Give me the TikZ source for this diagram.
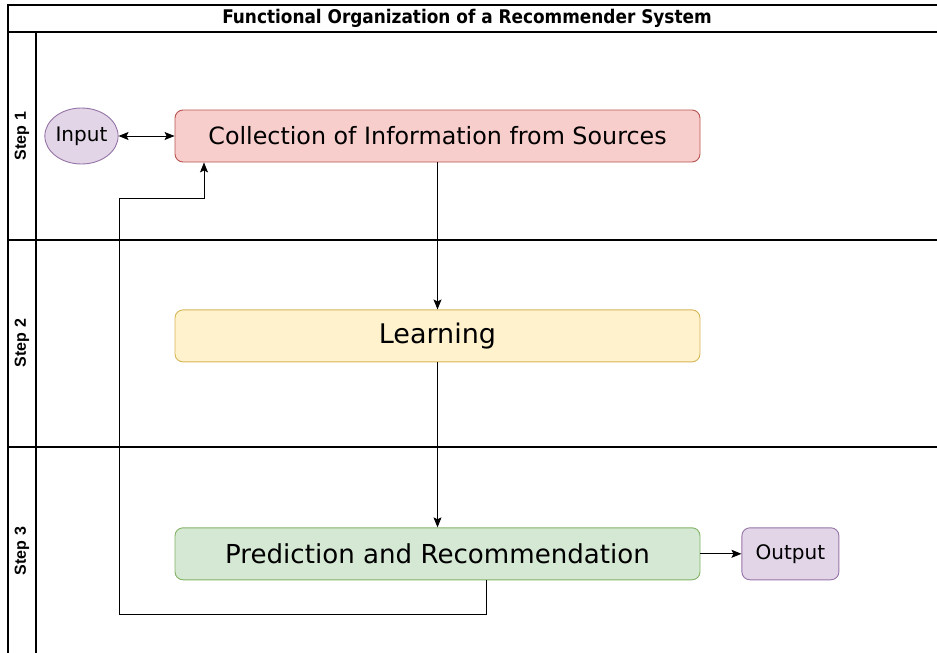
\documentclass[tikz,border=0pt]{standalone}
\usepackage{fontspec}
\setmainfont{DejaVu Sans}
\newfontfamily\titlefont{DejaVu Sans Condensed}
\newfontfamily\stepfont{Liberation Sans}
\usetikzlibrary{positioning,arrows.meta,shapes.geometric}

\definecolor{collfill}{HTML}{F8CECC}
\definecolor{colldraw}{HTML}{B85450}
\definecolor{learnfill}{HTML}{FFF2CC}
\definecolor{learndraw}{HTML}{D6B656}
\definecolor{predfill}{HTML}{D5E8D4}
\definecolor{preddraw}{HTML}{82B366}
\definecolor{iofill}{HTML}{E1D5E7}
\definecolor{iodraw}{HTML}{9673A6}

\begin{document}
\begin{tikzpicture}[x=1pt, y=-1pt, node distance=0pt,
    stepbox/.style={draw, rounded corners=8pt, minimum width=525pt, minimum height=52pt, line width=0.9pt, inner sep=0pt},
    lane/.style={line width=1.5pt},
    arr/.style={-{Stealth[length=10pt,width=8pt,inset=2pt]}, line width=0.9pt},
    steplabel/.style={rotate=90, font=\stepfont\bfseries\fontsize{16}{18}\selectfont}]

    \useasboundingbox (0,0) rectangle (937,653);

    % swimlane frame
    \draw[lane] (960,5) -- (8,5) -- (8,680);
    \draw[lane] (8,32) -- (960,32);
    \draw[lane] (36,32) -- (36,680);
    \draw[lane] (8,240) -- (960,240);
    \draw[lane] (8,447) -- (960,447);

    \node [font=\titlefont\bfseries\fontsize{18.8}{22}\selectfont] (title) at (467,18) {Functional Organization of a Recommender System};
    \node [steplabel] (s1) at (22,136) {Step 1};
    \node [steplabel] (s2) at (22,343) {Step 2};
    \node [steplabel] (s3) at (22,551) {Step 3};

    % the three steps
    \node [stepbox, fill=collfill, draw=colldraw, font=\fontsize{23.8}{28}\selectfont] (coll) at (437.5,136) {Collection of Information from Sources};
    \node [stepbox, fill=learnfill, draw=learndraw, font=\fontsize{27}{32}\selectfont, below=147pt of coll] (learn) {Learning};
    \node [stepbox, fill=predfill, draw=preddraw, font=\fontsize{26.1}{31}\selectfont, below=165pt of learn] (pred) {Prediction and Recommendation};

    \node [draw=iodraw, fill=iofill, ellipse, minimum width=70pt, minimum height=56pt, inner sep=0pt, line width=0.9pt, font=\fontsize{20}{24}\selectfont, left=56pt of coll] (input) {Input};
    \node [draw=iodraw, fill=iofill, rounded corners=8pt, minimum width=97pt, minimum height=52pt, inner sep=0pt, line width=0.9pt, font=\fontsize{20}{24}\selectfont, right=41pt of pred] (output) {Output};

    % connectors
    \draw [{Stealth[length=10pt,width=8pt,inset=2pt]}-{Stealth[length=10pt,width=8pt,inset=2pt]}, line width=0.9pt] (input) -- (coll);
    \draw [arr] (coll) -- (learn);
    \draw [arr] (learn) -- (pred);
    \draw [arr] (pred) -- (output);
    \draw [arr] ([xshift=48.5pt]pred.south) |- (119,614) |- (204,198) -- ([xshift=-233.5pt]coll.south);
\end{tikzpicture}
\end{document}
